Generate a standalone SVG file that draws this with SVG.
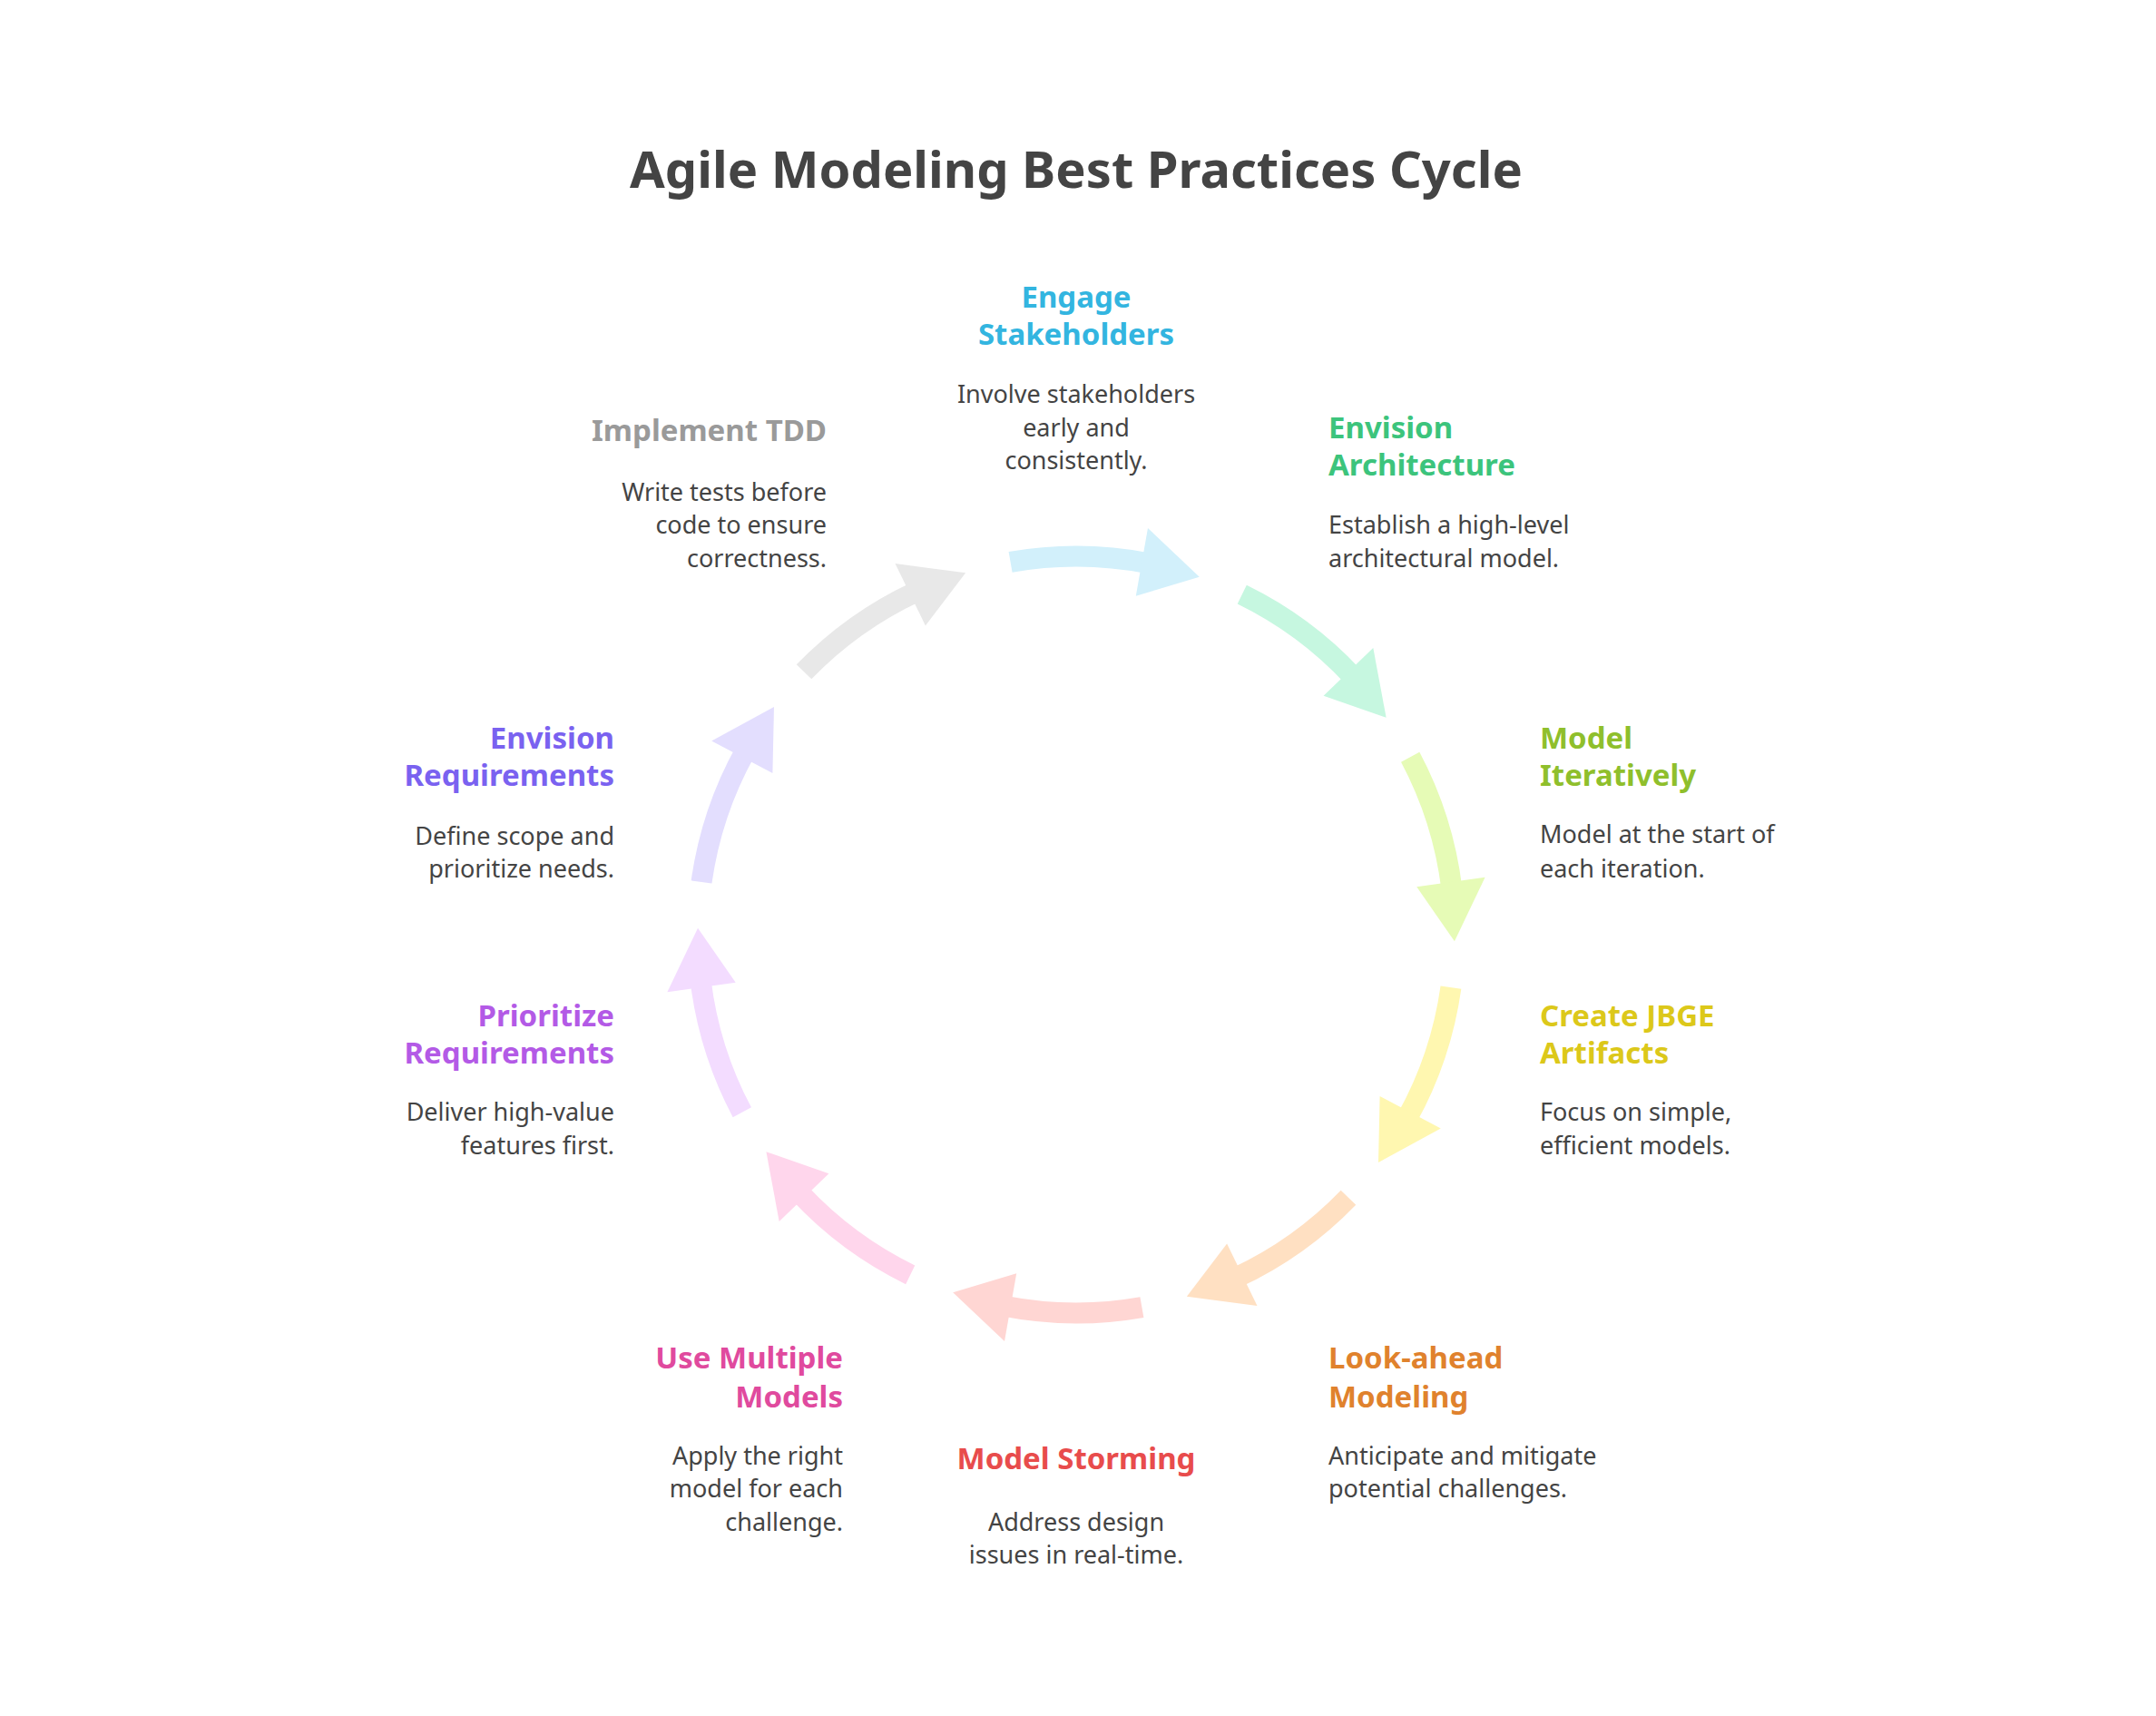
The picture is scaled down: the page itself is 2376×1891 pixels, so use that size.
<svg xmlns="http://www.w3.org/2000/svg" xmlns:xlink="http://www.w3.org/1999/xlink" width="2376" height="1891" viewBox="0 0 2376 1891">
<style>
text{font-family:"Noto Sans","Liberation Sans",sans-serif;dominant-baseline:central}
.t{font-size:56px;font-weight:bold;fill:#444;text-anchor:middle}
.h{font-size:33px;font-weight:bold}
.d{font-size:27px;fill:#444}
.m{text-anchor:middle}.e{text-anchor:end}
</style>
<defs>
<g id="arr">
<path d="M417 0 A417 417 0 0 1 389.3 149.4" fill="none" stroke-width="23"/>
<polygon points="427.6,155.6 364.7,202.2 356.1,129.6" stroke="none"/>
</g>
</defs>
<rect width="2376" height="1891" fill="#fff"/>
<text class="t" x="1186" y="185">Agile Modeling Best Practices Cycle</text>
<g id="connectors" transform="translate(1186 1030)">
<use xlink:href="#arr" transform="rotate(-100)" stroke="#d2f0fb" fill="#d2f0fb"/>
<use xlink:href="#arr" transform="rotate(-64)" stroke="#c6f7e0" fill="#c6f7e0"/>
<use xlink:href="#arr" transform="rotate(-28)" stroke="#e6fbb6" fill="#e6fbb6"/>
<use xlink:href="#arr" transform="rotate(8)" stroke="#fff7b0" fill="#fff7b0"/>
<use xlink:href="#arr" transform="rotate(44)" stroke="#ffe0c2" fill="#ffe0c2"/>
<use xlink:href="#arr" transform="rotate(80)" stroke="#ffd6d3" fill="#ffd6d3"/>
<use xlink:href="#arr" transform="rotate(116)" stroke="#ffd6ec" fill="#ffd6ec"/>
<use xlink:href="#arr" transform="rotate(152)" stroke="#f3dcff" fill="#f3dcff"/>
<use xlink:href="#arr" transform="rotate(188)" stroke="#e3defe" fill="#e3defe"/>
<use xlink:href="#arr" transform="rotate(224)" stroke="#e8e8e8" fill="#e8e8e8"/>
</g>
<g id="engage" class="m"><text class="h m" fill="#33b5e0" x="1186" y="326">Engage</text><text class="h m" fill="#33b5e0" x="1186" y="367">Stakeholders</text>
<text class="d m" x="1186" y="433">Involve stakeholders</text><text class="d m" x="1186" y="470">early and</text><text class="d m" x="1186" y="506">consistently.</text></g>
<g id="arch"><text class="h" fill="#3cc47c" x="1464" y="470">Envision</text><text class="h" fill="#3cc47c" x="1464" y="511">Architecture</text>
<text class="d" x="1464" y="577">Establish a high-level</text><text class="d" x="1464" y="614">architectural model.</text></g>
<g id="iter"><text class="h" fill="#8fbf2c" x="1697" y="812">Model</text><text class="h" fill="#8fbf2c" x="1697" y="853">Iteratively</text>
<text class="d" x="1697" y="918">Model at the start of</text><text class="d" x="1697" y="956">each iteration.</text></g>
<g id="jbge"><text class="h" fill="#dcc81a" x="1697" y="1118">Create JBGE</text><text class="h" fill="#dcc81a" x="1697" y="1159">Artifacts</text>
<text class="d" x="1697" y="1224">Focus on simple,</text><text class="d" x="1697" y="1261">efficient models.</text></g>
<g id="look"><text class="h" fill="#e0822d" x="1464" y="1495">Look-ahead</text><text class="h" fill="#e0822d" x="1464" y="1538">Modeling</text>
<text class="d" x="1464" y="1603">Anticipate and mitigate</text><text class="d" x="1464" y="1639">potential challenges.</text></g>
<g id="storm"><text class="h m" fill="#e84c4c" x="1186" y="1606">Model Storming</text>
<text class="d m" x="1186" y="1676">Address design</text><text class="d m" x="1186" y="1712">issues in real-time.</text></g>
<g id="multi"><text class="h e" fill="#e04a9e" x="929" y="1495">Use Multiple</text><text class="h e" fill="#e04a9e" x="929" y="1538">Models</text>
<text class="d e" x="929" y="1603">Apply the right</text><text class="d e" x="929" y="1639">model for each</text><text class="d e" x="929" y="1676">challenge.</text></g>
<g id="prio"><text class="h e" fill="#b35ae6" x="677" y="1118">Prioritize</text><text class="h e" fill="#b35ae6" x="677" y="1159">Requirements</text>
<text class="d e" x="677" y="1224">Deliver high-value</text><text class="d e" x="677" y="1261">features first.</text></g>
<g id="envreq"><text class="h e" fill="#7a62f0" x="677" y="812">Envision</text><text class="h e" fill="#7a62f0" x="677" y="853">Requirements</text>
<text class="d e" x="677" y="920">Define scope and</text><text class="d e" x="677" y="956">prioritize needs.</text></g>
<g id="tdd"><text class="h e" fill="#9a9a9a" x="911" y="473">Implement TDD</text>
<text class="d e" x="911" y="541">Write tests before</text><text class="d e" x="911" y="577">code to ensure</text><text class="d e" x="911" y="614">correctness.</text></g>
</svg>
